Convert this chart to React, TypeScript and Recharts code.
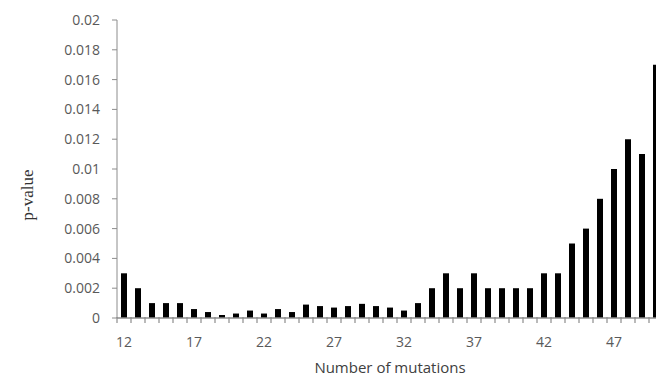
import { BarChart, Bar, XAxis, YAxis, Label } from "recharts";

const mutations = [
  12, 13, 14, 15, 16, 17, 18, 19, 20, 21, 22, 23, 24, 25, 26, 27, 28, 29, 30, 31,
  32, 33, 34, 35, 36, 37, 38, 39, 40, 41, 42, 43, 44, 45, 46, 47, 48, 49, 50,
];

const pValues = [
  0.003, 0.002, 0.001, 0.001, 0.001, 0.0006, 0.0004, 0.0002, 0.0003, 0.0005,
  0.0003, 0.0006, 0.0004, 0.0009, 0.0008, 0.0007, 0.0008, 0.00095, 0.0008, 0.0007,
  0.0005, 0.001, 0.002, 0.003, 0.002, 0.003, 0.002, 0.002, 0.002, 0.002,
  0.003, 0.003, 0.005, 0.006, 0.008, 0.01, 0.012, 0.011, 0.017,
];

const xLabelTicks = [12, 17, 22, 27, 32, 37, 42, 47];
const yTicks = [0, 0.002, 0.004, 0.006, 0.008, 0.01, 0.012, 0.014, 0.016, 0.018, 0.02];

const data = mutations.map((m, i) => ({ m, p: pValues[i] }));
// tick marks sit between the bars, labels sit under every 5th bar
const markTicks = mutations.map((m) => m - 0.5).concat([mutations[mutations.length - 1] + 0.5]);
const xTicks = markTicks.concat(xLabelTicks).sort((a, b) => a - b);
const xDomain = [11.5, 50.5];
const yDomain = [0, 0.02];

const font = "'Open Sans', sans-serif";
const textColor = "#595959";
const axisColor = "#8c8c8c";
const tickStyle = { fill: textColor, fontSize: 14, fontFamily: font };

const fmtY = (v: number) => String(parseFloat(v.toFixed(3)));

const XTick = ({ x, y, payload }: any) => {
  const v = payload.value;
  if (!Number.isInteger(v)) {
    return <line x1={x} x2={x} y1={y - 6} y2={y} stroke={axisColor} strokeWidth={1.2} />;
  }
  return (
    <text x={x} y={y + 14} dy="0.71em" textAnchor="middle" {...tickStyle}>
      {v}
    </text>
  );
};

const YTitle = ({ viewBox }: any) => {
  const cx = viewBox.x + 10;
  const cy = viewBox.y + viewBox.height / 2 + 26;
  return (
    <text
      x={cx}
      y={cy}
      transform={`rotate(-90 ${cx} ${cy})`}
      textAnchor="middle"
      dominantBaseline="central"
      fill="#333"
      fontSize={17}
      fontFamily="'Liberation Serif', 'Times New Roman', serif"
    >
      p-value
    </text>
  );
};

export default function App() {
  return (
    <div style={{ position: "absolute", left: 0, top: 0, width: 656, height: 378, overflow: "hidden", background: "#fff" }}>
      <BarChart width={680} height={378} data={data} margin={{ top: 20, right: 17, bottom: 0, left: 17 }}>
        <XAxis
          dataKey="m"
          type="number"
          domain={xDomain}
          ticks={xTicks}
          interval={0}
          height={60}
          tickSize={5}
          tickMargin={0}
          tickLine={false}
          axisLine={{ stroke: axisColor, strokeWidth: 1.5 }}
          tick={<XTick />}
        >
          <Label
            value="Number  of mutations"
            position="insideBottom"
            offset={5}
            style={{ fill: "#404040", fontSize: 15, fontFamily: font, whiteSpace: "pre" }}
          />
        </XAxis>
        <YAxis
          width={100}
          domain={yDomain}
          ticks={yTicks}
          interval={0}
          tickSize={5}
          tickMargin={12}
          stroke={axisColor}
          tick={tickStyle}
          tickFormatter={fmtY}
        >
          <Label content={YTitle} />
        </YAxis>
        <Bar dataKey="p" fill="#000" barSize={6} isAnimationActive={false} />
      </BarChart>
    </div>
  );
}
